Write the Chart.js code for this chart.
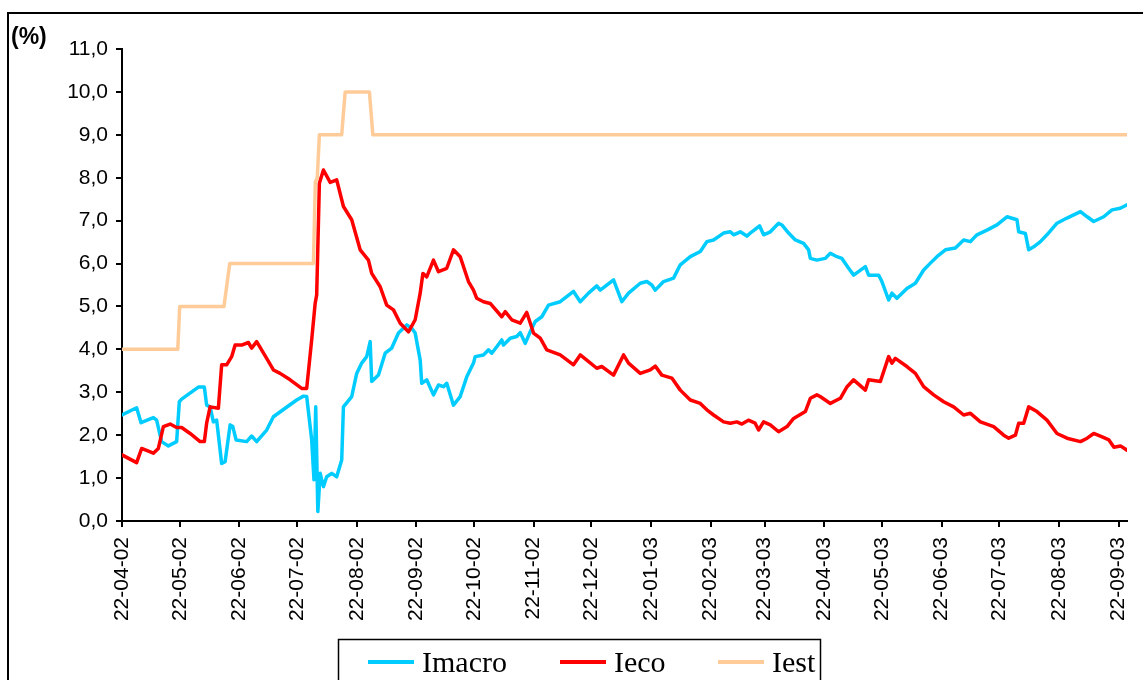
<!DOCTYPE html>
<html>
<head>
<meta charset="utf-8">
<script src="https://cdn.jsdelivr.net/npm/chart.js@4.4.1/dist/chart.umd.min.js"></script>
<style>
  html, body { margin: 0; padding: 0; background: #ffffff; }
  #wrap { width: 1143px; height: 680px; position: relative; overflow: hidden; }
</style>
</head>
<body>
<div id="wrap"><canvas id="chart" width="1143" height="680"></canvas></div>
<script>
// Date labels on the horizontal axis (dd-mm-yy), one per month
const tickLabels = ['22-04-02','22-05-02','22-06-02','22-07-02','22-08-02','22-09-02',
  '22-10-02','22-11-02','22-12-02','22-01-03','22-02-03','22-03-03','22-04-03',
  '22-05-03','22-06-03','22-07-03','22-08-03','22-09-03'];

// Series as [days since 22-04-02, value in %]
const imacroSeries = [[0,2.47],[7.6,2.64],[9.9,2.29],[16.3,2.41],[18.0,2.35],[20.6,1.85],[24.1,1.75],[28.4,1.85],[29.8,2.78],[31.0,2.84],[39.7,3.12],[42.8,3.12],[44.0,2.70],[45.8,2.66],[47.5,2.31],[49.2,2.35],[51.8,1.34],[53.6,1.38],[56.2,2.24],[57.6,2.20],[59.3,1.89],[64.8,1.85],[67.4,1.98],[70.0,1.85],[75.2,2.12],[78.7,2.43],[83.0,2.57],[90.8,2.82],[94.3,2.91],[96.0,2.90],[98.6,1.89],[99.8,0.96],[100.7,2.66],[101.8,0.22],[103.0,1.11],[104.7,0.80],[106.4,1.03],[109.0,1.11],[111.6,1.03],[114.2,1.42],[115.1,2.66],[119.4,2.90],[122.0,3.44],[124.6,3.68],[127.2,3.83],[129.0,4.18],[129.8,3.25],[133.3,3.40],[136.8,3.91],[140.2,4.03],[143.7,4.38],[148.0,4.57],[150.6,4.49],[152.4,4.38],[155.0,3.75],[155.8,3.21],[158.4,3.29],[161.9,2.94],[164.5,3.17],[167.1,3.13],[168.8,3.21],[172.3,2.70],[175.8,2.90],[179.2,3.36],[182.7,3.68],[183.6,3.83],[187.9,3.87],[190.5,3.99],[192.2,3.91],[194.8,4.06],[197.4,4.22],[198.3,4.10],[201.8,4.26],[205.2,4.30],[207.0,4.39],[209.6,4.14],[212.2,4.41],[214.8,4.65],[218.2,4.76],[221.7,5.03],[227.8,5.11],[234.7,5.35],[238.2,5.11],[242.5,5.31],[246.8,5.48],[248.6,5.38],[255.5,5.62],[259.8,5.11],[263.3,5.31],[269.4,5.54],[272.8,5.58],[275.4,5.50],[277.2,5.38],[281.5,5.58],[286.7,5.66],[290.2,5.97],[295.4,6.16],[300.6,6.28],[304.0,6.51],[307.5,6.55],[312.7,6.71],[316.2,6.74],[317.9,6.67],[321.4,6.74],[324.8,6.64],[327.4,6.74],[331.4,6.88],[333.5,6.67],[337.0,6.74],[341.3,6.94],[343.0,6.90],[346.5,6.71],[350.0,6.55],[354.3,6.47],[356.9,6.32],[357.8,6.12],[361.2,6.08],[365.6,6.12],[368.2,6.24],[371.6,6.16],[374.2,6.12],[377.7,5.89],[380.3,5.73],[386.4,5.93],[388.1,5.73],[393.3,5.73],[395.0,5.58],[398.5,5.15],[400.2,5.31],[402.8,5.19],[408.0,5.42],[412.4,5.54],[416.7,5.85],[420.2,6.01],[423.6,6.16],[428.0,6.32],[433.2,6.36],[437.5,6.55],[441.0,6.51],[444.4,6.67],[449.6,6.78],[454.8,6.90],[460.0,7.09],[465.2,7.02],[466.1,6.74],[469.6,6.70],[471.3,6.32],[473.9,6.39],[477.4,6.51],[480.8,6.67],[486.0,6.94],[491.2,7.06],[498.2,7.21],[501.7,7.09],[505.1,6.98],[510.3,7.09],[514.6,7.25],[518.9,7.29],[522.4,7.37]];

const iecoSeries = [[0,1.54],[7.6,1.36],[10.2,1.69],[16.3,1.58],[18.9,1.69],[21.5,2.20],[25.0,2.26],[28.4,2.18],[31.0,2.18],[35.4,2.04],[40.6,1.85],[42.8,1.85],[44.0,2.28],[45.8,2.66],[50.1,2.63],[51.8,3.64],[54.4,3.64],[57.0,3.83],[58.8,4.10],[62.2,4.10],[65.7,4.16],[67.4,4.03],[70.0,4.18],[75.2,3.79],[78.7,3.52],[82.2,3.44],[87.4,3.29],[93.4,3.09],[96.0,3.09],[98.6,4.22],[100.4,5.07],[101.2,5.27],[102.6,7.87],[104.7,8.18],[108.2,7.89],[111.6,7.95],[115.1,7.33],[119.4,7.02],[123.8,6.32],[128.1,6.08],[129.8,5.77],[134.2,5.46],[137.6,5.03],[141.1,4.92],[144.6,4.61],[148.9,4.41],[152.4,4.69],[155.0,5.31],[156.4,5.77],[158.4,5.69],[161.9,6.08],[164.5,5.81],[168.8,5.89],[172.3,6.32],[175.8,6.16],[180.1,5.58],[182.7,5.38],[184.4,5.19],[187.9,5.11],[191.4,5.07],[197.4,4.76],[199.2,4.88],[202.6,4.69],[207.0,4.61],[210.4,4.86],[213.9,4.38],[217.4,4.26],[220.8,3.99],[227.8,3.87],[234.7,3.64],[238.2,3.87],[241.6,3.75],[246.8,3.56],[249.4,3.60],[255.5,3.40],[260.7,3.87],[263.3,3.68],[269.4,3.44],[274.6,3.52],[277.2,3.61],[280.6,3.40],[285.8,3.33],[290.2,3.05],[295.4,2.82],[300.6,2.74],[304.0,2.59],[307.5,2.47],[312.7,2.31],[316.2,2.28],[319.6,2.31],[322.2,2.26],[325.6,2.35],[329.1,2.28],[330.9,2.12],[333.5,2.31],[337.0,2.24],[341.3,2.08],[345.7,2.20],[349.1,2.39],[355.2,2.55],[357.8,2.86],[361.2,2.94],[362.9,2.90],[368.2,2.74],[373.4,2.86],[376.9,3.13],[380.3,3.29],[386.4,3.05],[388.1,3.29],[394.2,3.25],[398.5,3.83],[400.2,3.68],[402.0,3.79],[408.0,3.60],[412.4,3.44],[416.7,3.13],[421.9,2.94],[427.1,2.78],[432.3,2.66],[437.5,2.47],[441.0,2.51],[446.2,2.31],[453.1,2.20],[458.3,2.00],[460.9,1.93],[464.4,2.00],[466.1,2.28],[468.7,2.28],[471.3,2.66],[475.6,2.55],[480.8,2.35],[486.0,2.04],[491.2,1.93],[498.2,1.85],[501.7,1.93],[505.1,2.04],[509.5,1.96],[513.0,1.89],[515.6,1.72],[519.0,1.75],[522.4,1.65]];

const iestSeries = [[0,4],[29,4],[30,5],[53,5],[56,6],[99.5,6],[100.5,7.9],[101.5,8],[102.6,9],[114.2,9],[116,10],[128.6,10],[130.4,9],[522.4,9]];

const seriesNames = ['Imacro', 'Ieco', 'Iest'];
const seriesColors = ['#00CCFF', '#FF0000', '#FFCC99'];

// Day offsets of the monthly ticks, parsed from their dd-mm-yy labels
const DAY_MS = 86400000;
function labelToDate(s) {
  const [d, m, y] = s.split('-').map(Number);
  return Date.UTC(2000 + y, m - 1, d);
}
const startDate = labelToDate(tickLabels[0]);
const tickDays = tickLabels.map(s => Math.round((labelToDate(s) - startDate) / DAY_MS));

const toPoints = arr => arr.map(([x, y]) => ({ x, y }));
const allSeries = [imacroSeries, iecoSeries, iestSeries];
const lastDay = Math.max(...allSeries.map(s => s[s.length - 1][0]));

// Frame around the whole chart plus the "(%)" unit label
const framePlugin = {
  id: 'frame',
  beforeDraw(chart) {
    const ctx = chart.ctx;
    ctx.save();
    ctx.fillStyle = '#ffffff';
    ctx.fillRect(0, 0, chart.width, chart.height);
    ctx.strokeStyle = '#000000';
    ctx.lineWidth = 2;
    ctx.strokeRect(8, 13, chart.width + 20, chart.height + 40);
    ctx.fillStyle = '#000000';
    ctx.font = 'bold 23px "Liberation Sans", Arial, sans-serif';
    ctx.textBaseline = 'middle';
    ctx.textAlign = 'left';
    ctx.fillText('(%)', 11, 38);
    ctx.restore();
  }
};

// Boxed legend under the axis
const boxLegendPlugin = {
  id: 'boxLegend',
  afterDraw(chart) {
    const ctx = chart.ctx;
    ctx.save();
    ctx.strokeStyle = '#000000';
    ctx.lineWidth = 1.5;
    ctx.strokeRect(338.5, 639.5, 482, 60);
    const slots = [368, 560, 718];
    ctx.font = '30px "Liberation Serif", "Times New Roman", serif';
    ctx.textBaseline = 'alphabetic';
    ctx.textAlign = 'left';
    chart.data.datasets.forEach((ds, i) => {
      const x = slots[i];
      ctx.strokeStyle = ds.borderColor;
      ctx.lineWidth = 4;
      ctx.beginPath();
      ctx.moveTo(x, 662);
      ctx.lineTo(x + 46, 662);
      ctx.stroke();
      ctx.fillStyle = '#000000';
      ctx.fillText(ds.label, x + 54, 672);
    });
    ctx.restore();
  }
};

const datasets = allSeries.map((s, i) => ({
  label: seriesNames[i],
  data: toPoints(s),
  borderColor: seriesColors[i],
  backgroundColor: seriesColors[i],
  borderWidth: 3.5,
  borderJoinStyle: 'round',
  borderCapStyle: 'round',
  pointRadius: 0,
  tension: 0,
  fill: false,
  order: 2 - i
}));

new Chart(document.getElementById('chart'), {
  type: 'line',
  data: { datasets },
  options: {
    responsive: false,
    animation: false,
    devicePixelRatio: 1,
    layout: { padding: { left: 0, right: 16, top: 49, bottom: 0 } },
    plugins: {
      legend: { display: false },
      tooltip: { enabled: false }
    },
    scales: {
      x: {
        type: 'linear',
        min: 0,
        max: lastDay,
        afterBuildTicks(axis) {
          axis.ticks = tickDays.map(v => ({ value: v }));
        },
        afterFit(axis) {
          axis.height = 680 - 521;
          axis.paddingLeft = 0;
          axis.paddingRight = 0;
        },
        ticks: {
          autoSkip: false,
          minRotation: 90,
          maxRotation: 90,
          padding: 10,
          color: '#000000',
          font: { family: '"Liberation Sans", Arial, sans-serif', size: 21 },
          callback(value) {
            const i = tickDays.indexOf(value);
            return i >= 0 ? tickLabels[i] : '';
          }
        },
        grid: {
          drawOnChartArea: false,
          drawTicks: true,
          tickLength: 6,
          color: '#000000',
          lineWidth: 2
        },
        border: { display: true, color: '#000000', width: 2 }
      },
      y: {
        min: 0,
        max: 11,
        afterFit(axis) {
          axis.width = 122;
          axis.paddingTop = 0;
          axis.paddingBottom = 0;
        },
        ticks: {
          stepSize: 1,
          padding: 8,
          color: '#000000',
          font: { family: '"Liberation Sans", Arial, sans-serif', size: 21 },
          callback: v => v.toFixed(1).replace('.', ',')
        },
        grid: {
          drawOnChartArea: false,
          drawTicks: true,
          tickLength: 6,
          color: '#000000',
          lineWidth: 2
        },
        border: { display: true, color: '#000000', width: 2 }
      }
    }
  },
  plugins: [framePlugin, boxLegendPlugin]
});
</script>
</body>
</html>
